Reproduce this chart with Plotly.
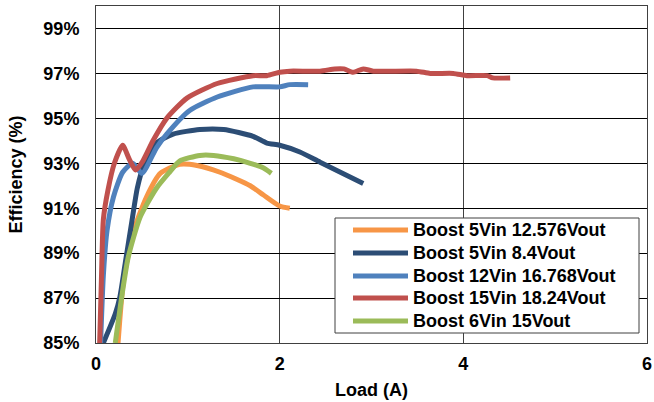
import plotly.graph_objects as go

# Load (A) and efficiency (%) per series
orange_x = [0.24, 0.30, 0.41, 0.55, 0.70, 0.91, 1.10, 1.35, 1.68, 1.82, 2.00, 2.11]
orange_y = [85.0, 87.8, 90.0, 91.5, 92.55, 92.95, 92.9, 92.6, 92.0, 91.6, 91.1, 91.0]

dblue_x = [0.08, 0.21, 0.26, 0.32, 0.39, 0.45, 0.52, 0.66, 0.84, 1.13, 1.39, 1.71, 1.86, 2.00, 2.22, 2.44, 2.91]
dblue_y = [85.0, 86.3, 87.05, 88.6, 90.4, 91.9, 92.9, 93.9, 94.3, 94.5, 94.5, 94.2, 93.9, 93.8, 93.5, 93.05, 92.1]

lblue_x = [0.05, 0.08, 0.12, 0.19, 0.29, 0.40, 0.50, 0.66, 0.77, 1.02, 1.32, 1.71, 2.00, 2.11, 2.31]
lblue_y = [85.0, 88.0, 90.0, 91.5, 92.6, 93.0, 92.55, 93.7, 94.3, 95.35, 95.95, 96.4, 96.4, 96.5, 96.5]

red_x = [0.04, 0.06, 0.08, 0.13, 0.20, 0.29, 0.36, 0.43, 0.51, 0.62, 0.77, 0.99, 1.32, 1.71, 1.86, 2.00, 2.11, 2.44, 2.60, 2.70,
         2.80, 2.91, 3.02, 3.49, 3.64, 3.89, 4.04, 4.26, 4.32, 4.51]
red_y = [85.0, 88.0, 90.5, 91.8, 93.0, 93.8, 93.2, 92.7, 93.1, 94.0, 95.0, 95.9, 96.55, 96.9, 96.9, 97.05, 97.1, 97.1, 97.2, 97.2,
         97.05, 97.2, 97.1, 97.1, 97.0, 97.0, 96.9, 96.9, 96.8, 96.8]

green_x = [0.21, 0.28, 0.35, 0.48, 0.66, 0.80, 0.91, 1.13, 1.28, 1.50, 1.68, 1.82, 1.91]
green_y = [85.0, 87.05, 88.8, 90.6, 91.9, 92.6, 93.1, 93.35, 93.35, 93.2, 93.0, 92.8, 92.55]

names = ["Boost 5Vin 12.576Vout", "Boost 5Vin 8.4Vout", "Boost 12Vin 16.768Vout",
         "Boost 15Vin 18.24Vout", "Boost 6Vin 15Vout"]
colors = ["#F79646", "#2C4D75", "#4F81BD", "#C0504D", "#9BBB59"]

x_ticks = [0, 2, 4, 6]
y_ticks = [85, 87, 89, 91, 93, 95, 97, 99]

series = [(orange_x, orange_y), (dblue_x, dblue_y), (lblue_x, lblue_y), (red_x, red_y), (green_x, green_y)]

fig = go.Figure()
for i, (xs, ys) in enumerate(series):
    fig.add_trace(go.Scatter(x=xs, y=ys, mode="lines", name=names[i], showlegend=False,
                             line=dict(color=colors[i], width=5, shape="spline", smoothing=0.6)))

font = dict(family="Liberation Sans, Arial, sans-serif", size=18, color="#000000", weight="bold")

# Legend drawn as a boxed key (paper coordinates of the plot area)
W, H = 654, 402
L, R, T, B = 96, 7, 6, 59
pw, ph = W - L - R, H - T - B
def px(x):
    return (x - L) / pw
def py(y):
    return (H - B - y) / ph

shapes = [dict(type="rect", xref="paper", yref="paper",
               x0=px(335), x1=px(639), y0=py(333), y1=py(218),
               line=dict(color="#404040", width=1), fillcolor="white", layer="above")]
annotations = []
row_y = [230, 253, 276, 298, 321]
for i, name in enumerate(names):
    shapes.append(dict(type="line", xref="paper", yref="paper",
                       x0=px(353), x1=px(408), y0=py(row_y[i]), y1=py(row_y[i]),
                       line=dict(color=colors[i], width=5), layer="above"))
    annotations.append(dict(xref="paper", yref="paper", x=px(411), y=py(row_y[i]),
                            xanchor="left", yanchor="middle", text=name, showarrow=False,
                            font=dict(family="Liberation Sans, Arial, sans-serif", size=18,
                                      color="#000", weight="bold")))

fig.update_layout(
    width=W, height=H,
    margin=dict(l=L, r=R, t=T, b=B, autoexpand=False),
    paper_bgcolor="white", plot_bgcolor="white",
    font=font,
    showlegend=False,
    shapes=shapes, annotations=annotations,
    xaxis=dict(range=[0, 6], tickvals=x_ticks, ticktext=[str(v) for v in x_ticks],
               showgrid=True, gridcolor="#404040", gridwidth=1,
               showline=True, linecolor="#404040", mirror=True, zeroline=False,
               ticks="", ticklen=0, automargin=False, ticklabelstandoff=4,
               tickfont=font,
               title=dict(text="Load (A)", standoff=10, font=font)),
    yaxis=dict(range=[85, 100], tickvals=y_ticks, ticktext=[f"{v}%" for v in y_ticks],
               showgrid=True, gridcolor="#000000", gridwidth=1,
               showline=True, linecolor="#404040", mirror=True, zeroline=False,
               ticks="", ticklen=0, automargin=False, ticklabelstandoff=12,
               tickfont=font,
               title=dict(text="Efficiency (%)", standoff=16, font=font)),
)

fig.write_html("out.html", config={"displayModeBar": False},
               post_script="document.body.style.margin='0';")
